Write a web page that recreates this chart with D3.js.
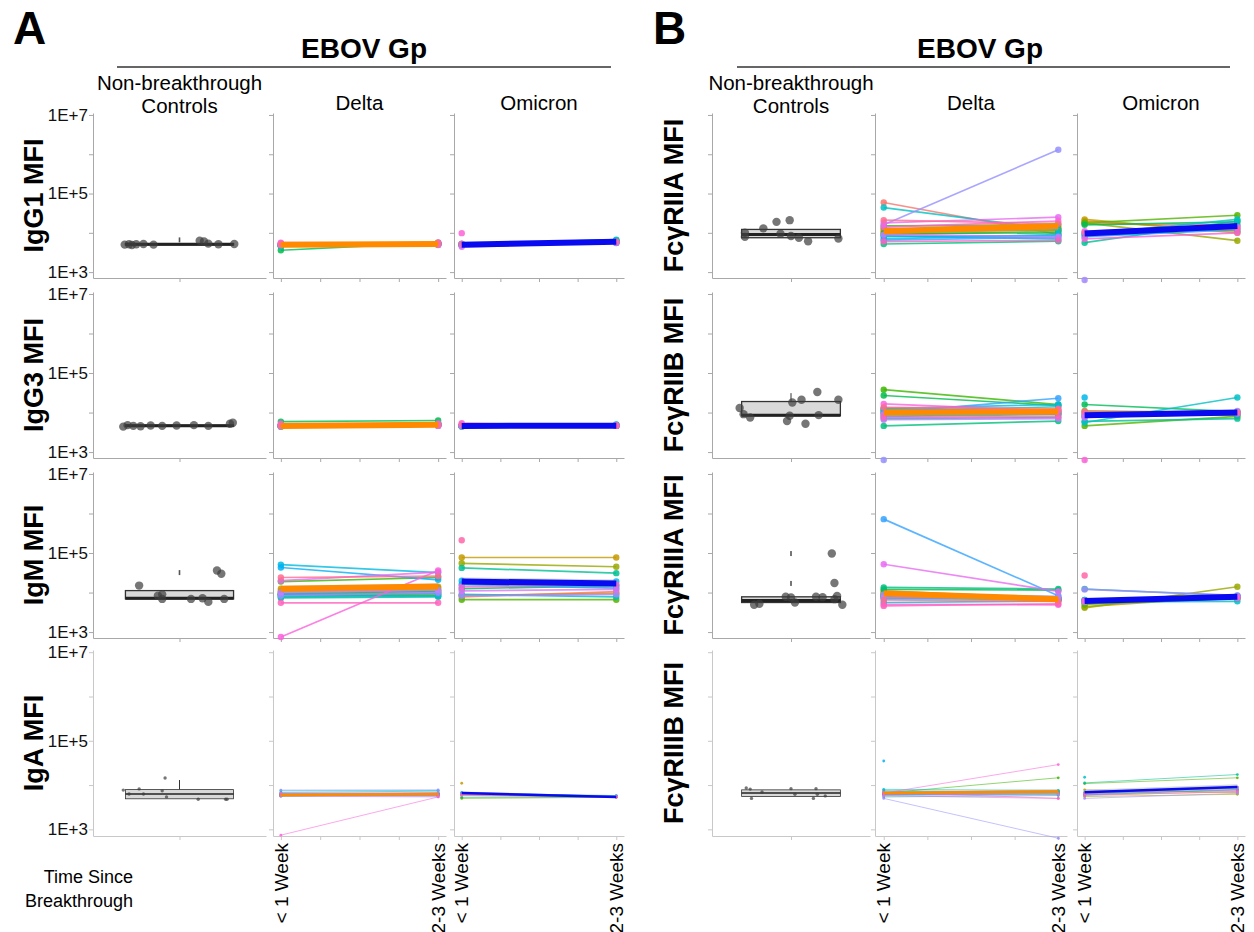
<!DOCTYPE html>
<html>
<head>
<meta charset="utf-8">
<title>EBOV Gp</title>
<script src="https://cdn.jsdelivr.net/npm/d3@7"></script>
<style>
  body { margin: 0; background: #fff; }
</style>
</head>
<body>
<script>
// ---- data, MFI ----
const antigens = ["IgG1", "IgG3", "IgM", "IgA", "FcγRIIA", "FcγRIIB", "FcγRIIIA", "FcγRIIIB"];
const timeLabels = ["< 1 Week", "2-3 Weeks"];
const timeTicks = [1, 1.25, 1.5, 1.75, 2];
const yTicks = [1e3, 1e4, 1e5, 1e6, 1e7];
const yTickLabels = ["1E+3", "", "1E+5", "", "1E+7"];
const deltaSubjects = d3.range(1, 21).map(i => "D" + i);
const omicronSubjects = d3.range(1, 15).map(i => "O" + i);

// controls: values, jitter (category units), box [q1, median, q3, upper whisker], outliers
const ctrlValues = [
  [5000, 5100, 4900, 5100, 5200, 5000, 6300, 6000, 5300, 5100, 5200],
  [4400, 4800, 4600, 4500, 4700, 4600, 4700, 4800, 4600, 5200, 5500],
  [15000, 8300, 6900, 9000, 6900, 7200, 5800, 6900, 36000, 30000],
  [7700, 6300, 8200, 6300, 7400, 14400, 5400, 4800, 4800, 4800],
  [10000, 7900, 13000, 19000, 9500, 21000, 8300, 7500, 6100, 7200],
  [13000, 9100, 7500, 6100, 8300, 18000, 21000, 5200, 33000, 8600, 21000],
  [4900, 5200, 7800, 7500, 5600, 7800, 7600, 97000, 17500, 8200, 6800, 4900],
  [8600, 8100, 5000, 7000, 8300, 6200, 5000, 8300, 6200, 5700]
];
const ctrlJitter = [
  [-0.38, -0.35, -0.33, -0.3, -0.25, -0.18, 0.14, 0.17, 0.2, 0.27, 0.38],
  [-0.39, -0.36, -0.32, -0.27, -0.2, -0.12, -0.02, 0.1, 0.2, 0.35, 0.37],
  [-0.28, -0.15, -0.12, -0.12, 0.08, 0.16, 0.2, 0.31, 0.26, 0.29],
  [-0.39, -0.35, -0.28, -0.25, -0.12, -0.1, -0.09, 0.13, 0.32, 0.33],
  [-0.35, -0.35, -0.21, -0.11, -0.08, -0.01, 0.0, 0.06, 0.13, 0.36],
  [-0.39, -0.36, -0.31, -0.03, -0.01, 0.01, 0.08, 0.11, 0.2, 0.21, 0.36],
  [-0.28, -0.24, -0.04, 0.0, 0.03, 0.19, 0.24, 0.31, 0.33, 0.35, 0.33, 0.39],
  [-0.34, -0.31, -0.3, -0.22, 0.0, 0.03, 0.17, 0.19, 0.2, 0.26]
];
const ctrlBox = [
  [4900, 5100, 5300, 5300],
  [4500, 4650, 4800, 4800],
  [6900, 7200, 11200, 11200],
  [4900, 6300, 7900, 13000],
  [7500, 9100, 12200, 12200],
  [8300, 8600, 19000, 31000],
  [5600, 6300, 7800, 7800],
  [5500, 6600, 7800, 7800]
];
const ctrlOutliers = [[6600], [], [32000], [], [], [], [97000, 17000], []];

// breakthrough subjects: [< 1 week, 2-3 weeks]
const deltaValues = [
  [[5000,5300],[5100,5400],[4800,5200],[5200,5500],[4700,5000],[4900,5100],[4600,5300],[3600,5600],[4700,5400],[4900,5200],[4800,5300],[5000,5000],[4600,5100],[5100,5300],[4800,5000],[5300,5200],[5400,4900],[5600,5500],[5200,5700],[5000,5100]],
  [[4600,4900],[4700,5000],[4500,4800],[4800,5100],[4400,4700],[4600,4800],[4500,5200],[5900,6300],[4700,5000],[4600,5100],[4800,5400],[4600,4700],[4500,4900],[4700,4800],[4400,4600],[4800,4900],[4900,4600],[5200,5300],[4700,5100],[4600,4800]],
  [[8800,9500],[10500,12000],[12500,14000],[11000,13000],[9000,10500],[8000,9000],[19000,24000],[9500,11000],[8800,8300],[7300,7800],[7800,8200],[51000,32000],[43000,21000],[9000,9500],[8300,10000],[10000,11500],[20000,33000],[750,36000],[5500,5500],[24000,26000]],
  [[6000,6300],[5800,6200],[6200,6600],[6400,6500],[5900,6100],[6100,6200],[5600,5900],[6000,6400],[5700,6000],[6300,6000],[7400,7500],[6800,7300],[5800,5600],[6200,6100],[7700,7800],[6600,6800],[5600,5400],[740,5400],[6400,6000],[6000,5800]],
  [[59000,9100],[12000,14000],[11000,13000],[10000,12000],[9000,11000],[13000,11500],[15000,16000],[9500,10000],[5200,6100],[8000,8500],[44000,12000],[7000,9000],[8500,7000],[6500,7800],[16000,1300000],[9000,8000],[18000,25000],[14000,20000],[6000,6500],[21000,17000]],
  [[13000,11000],[11500,10500],[10000,10800],[9500,10000],[12000,9000],[8700,9500],[38000,16000],[27000,15000],[4600,6100],[7000,7500],[11000,14000],[12500,16000],[8000,9000],[10000,23000],[630,null],[6600,7000],[9000,12000],[16500,11000],[7500,8000],[13500,12500]],
  [[9000,7000],[10000,7500],[11000,7200],[9500,6800],[8500,6500],[9000,7000],[8000,6600],[12000,11500],[13500,12300],[7500,6800],[5600,6100],[8000,7000],[7000,6800],[720000,8300],[9000,8000],[7500,7000],[52000,10700],[5000,4900],[4600,5200],[6500,6000]],
  [[6500,6800],[6200,7000],[6800,7400],[6000,6500],[7200,7200],[6400,6900],[6600,14600],[6300,6800],[5400,5800],[6100,6300],[8000,7600],[7500,6700],[35000,null],[6000,6200],[5000,630],[5800,6100],[5700,5000],[6600,29000],[6900,5000],[6400,6600]]
];
const omicronValues = [
  [[5000,5800],[5100,5600],[4900,6000],[5200,5900],[4800,6200],[5000,6300],[5200,6500],[5100,6700],[4900,5700],[5000,5500],[5300,5800],[4400,5600],[9800,null],[5200,5900]],
  [[4600,4700],[4500,4600],[4700,4800],[4600,4700],[4400,4600],[4600,4800],[4700,4900],[4600,5000],[4500,4700],[4600,4600],[4500,4700],[4800,4700],[5400,4600],[5000,4700]],
  [[7800,10500],[8500,9500],[77000,77000],[55000,45000],[6600,6600],[12500,15000],[42000,31000],[9000,7800],[20000,19000],[16000,13000],[8300,9000],[11000,12000],[14000,16000],[210000,null]],
  [[6400,5600],[6000,5500],[11000,null],[6200,5400],[5000,5300],[5300,5400],[6100,5700],[6600,5800],[6800,5500],[6500,5500],[6300,5600],[6000,5400],[6200,5500],[5800,5300]],
  [[17000,16000],[20000,11000],[22000,10000],[18000,6300],[18000,28000],[16000,19000],[5600,20000],[9000,22000],[9600,15000],[8000,12000],[630,null],[11000,14000],[7000,10000],[10000,13000]],
  [[9000,10000],[8000,9800],[10000,8500],[11000,10000],[4600,8000],[16000,10500],[6000,7000],[5600,24000],[24000,null],[8000,9000],[9000,11000],[7500,9500],[630,null],[10500,10000]],
  [[6000,7500],[5500,7000],[4400,8000],[4100,14000],[5000,7200],[6500,7500],[12300,8300],[5800,6000],[6100,7800],[6500,8000],[12000,8500],[5800,7300],[6200,7600],[27000,null]],
  [[6600,7500],[6000,7000],[7800,6800],[5500,6200],[10800,14600],[6200,8000],[11200,17300],[15000,null],[6900,9000],[6000,7800],[5000,6500],[6500,8500],[5800,7200],[6300,8800]]
];

// group means and their band: [lo1, lo2, hi1, hi2]
const deltaMean = [[4950,5200],[4600,4900],[12500,14200],[6000,6300],[11000,15000],[10000,10400],[9500,6800],[6600,7200]];
const omicronMean = [[5000,5900],[4600,4650],[19000,17000],[6600,5400],[9600,15000],[8600,10000],[6100,7800],[6900,9000]];
const deltaBand = [[4750,5000,5150,5400],[4450,4750,4750,5050],[10500,11800,14800,17000],[5600,5900,6400,6700],[9500,11500,12800,19000],[9000,9300,11100,11600],[8000,6300,11300,7400],[6100,6500,7200,8000]];
const omicronBand = [[4750,5500,5250,6300],[4450,4500,4750,4800],[15000,13500,24000,21500],[6000,5100,7200,5700],[8300,12800,11100,17500],[7500,9000,9800,11100],[5500,7100,6800,8600],[6100,7700,7800,10500]];

// ---- layout ----
const FONT = "'Liberation Sans', Arial, sans-serif";
const rowsY = [[113, 278], [292, 458], [472, 638], [650, 836]];
const figs = [
  { letter: "A", lx: 13, title: 364, rule: [117, 611], cols: [[93, 266], [273, 446], [454, 624]], labelX: 43, labels: true },
  { letter: "B", lx: 653, title: 980, rule: [737, 1230], cols: [[712, 870], [875, 1067], [1077, 1245]], labelX: 683, labels: false }
];
// ggplot default hue palettes
const deltaColor = d3.scaleOrdinal(deltaSubjects, ["#F8766D", "#EA8331", "#D89000", "#C09B00", "#A3A500", "#7CAE00", "#39B600", "#00BB4E", "#00BF7D", "#00C1A3", "#00BFC4", "#00BAE0", "#00B0F6", "#35A2FF", "#9590FF", "#C77CFF", "#E76BF3", "#FA62DB", "#FF62BC", "#FF6C91"]);
const omicronColor = d3.scaleOrdinal(omicronSubjects, ["#F8766D", "#E38900", "#C49A00", "#99A800", "#53B400", "#00BC56", "#00C094", "#00BFC4", "#00B6EB", "#06A4FF", "#A58AFF", "#DF70F8", "#FB61D7", "#FF66A8"]);

const svg = d3.select("body").append("svg")
  .attr("width", 1254).attr("height", 932)
  .attr("font-family", FONT);

// headers
figs.forEach(f => {
  svg.append("text").attr("x", f.lx).attr("y", 44)
    .attr("font-size", 46).attr("font-weight", "bold").text(f.letter);
  svg.append("text").attr("x", f.title).attr("y", 58).attr("text-anchor", "middle")
    .attr("font-size", 28).attr("font-weight", "bold").text("EBOV Gp");
  svg.append("line").attr("x1", f.rule[0]).attr("x2", f.rule[1]).attr("y1", 67).attr("y2", 67)
    .attr("stroke", "#333").attr("stroke-width", 1.5);
  const cx = f.cols.map(c => (c[0] + c[1]) / 2);
  svg.append("text").attr("x", cx[0]).attr("y", 90).attr("text-anchor", "middle")
    .attr("font-size", 20.5).text("Non-breakthrough");
  svg.append("text").attr("x", cx[0]).attr("y", 113).attr("text-anchor", "middle")
    .attr("font-size", 20.5).text("Controls");
  svg.append("text").attr("x", cx[1]).attr("y", 110).attr("text-anchor", "middle")
    .attr("font-size", 20.5).text("Delta");
  svg.append("text").attr("x", cx[2]).attr("y", 110).attr("text-anchor", "middle")
    .attr("font-size", 20.5).text("Omicron");
});

svg.append("text").attr("x", 133).attr("y", 883).attr("text-anchor", "end")
  .attr("font-size", 18).text("Time Since");
svg.append("text").attr("x", 133).attr("y", 907).attr("text-anchor", "end")
  .attr("font-size", 18).text("Breakthrough");

function axes(g, x, y, ticksX, col, showLabels, axisColor) {
  g.append("g").attr("transform", `translate(${col[0]},0)`)
    .call(d3.axisLeft(y).tickValues(yTicks).tickSize(4).tickSizeOuter(0).tickPadding(1)
      .tickFormat((d, i) => showLabels ? yTickLabels[i] : ""))
    .attr("color", axisColor).attr("font-family", FONT).attr("font-size", 17)
    .call(s => s.selectAll("text").attr("fill", "#111"));
  g.append("g").attr("transform", `translate(0,${y.range()[0]})`)
    .call(d3.axisBottom(x).tickValues(ticksX).tickSize(4).tickSizeOuter(0).tickFormat(""))
    .attr("color", axisColor);
}

antigens.forEach((name, k) => {
  const f = figs[k < 4 ? 0 : 1];
  const r = k % 4;
  const thin = r === 3;
  const [top, bottom] = rowsY[r];
  const y = d3.scaleLog().domain([10 ** 2.85, 10 ** 7.05]).range([bottom, top]);
  const g = svg.append("g");
  const axisColor = thin ? "#c8c8c8" : "#a8a8a8";

  g.append("text")
    .attr("transform", `translate(${f.labelX},${(top + bottom) / 2}) rotate(-90)`)
    .attr("text-anchor", "middle").attr("font-size", 27).attr("font-weight", "bold")
    .text(name + " MFI");

  // controls: box plot with jittered points
  const xc = d3.scaleLinear().domain([0.4, 1.6]).range(f.cols[0]);
  axes(g, xc, y, [1], f.cols[0], f.labels, axisColor);
  const [q1, med, q3, wHi] = ctrlBox[k];
  if (wHi > q3) {
    g.append("line").attr("x1", xc(1)).attr("x2", xc(1)).attr("y1", y(q3)).attr("y2", y(wHi))
      .attr("stroke", "#333").attr("stroke-width", 1);
  }
  g.append("rect").attr("x", xc(0.625)).attr("width", xc(1.375) - xc(0.625))
    .attr("y", y(q3)).attr("height", Math.max(1, y(q1) - y(q3)))
    .attr("fill", "#d9d9d9").attr("stroke", "#333").attr("stroke-width", thin ? 0.8 : 1.3);
  g.append("line").attr("x1", xc(0.625)).attr("x2", xc(1.375)).attr("y1", y(med)).attr("y2", y(med))
    .attr("stroke", "#222").attr("stroke-width", thin ? 1.5 : 3);
  g.selectAll(".out").data(ctrlOutliers[k]).join("rect")
    .attr("x", xc(1) - 0.8).attr("width", 1.6)
    .attr("y", d => y(d) - 2.5).attr("height", 5).attr("fill", "#555");
  g.selectAll(".ctrl").data(ctrlValues[k]).join("circle")
    .attr("cx", (d, i) => xc(1 + ctrlJitter[k][i])).attr("cy", d => y(d))
    .attr("r", thin ? 1.7 : 4.2).attr("fill", "#3c3c3c").attr("opacity", 0.7);

  // breakthrough groups
  [[deltaValues, deltaSubjects, deltaColor, deltaMean, deltaBand, "#ff8a00"],
   [omicronValues, omicronSubjects, omicronColor, omicronMean, omicronBand, "#0a0af0"]]
  .forEach(([vals, ids, color, mean, band, meanColor], gi) => {
    const col = f.cols[gi + 1];
    const x = d3.scaleLinear().domain([0.95, 2.05]).range(col);
    axes(g, x, y, timeTicks, col, false, axisColor);
    const line = d3.line().x(d => x(d[0])).y(d => y(d[1]));
    const data = vals[k].map((v, i) => ({ id: ids[i], v }));

    g.selectAll(null).data(data.filter(d => d.v[0] != null && d.v[1] != null)).join("path")
      .attr("d", d => line([[1, d.v[0]], [2, d.v[1]]]))
      .attr("fill", "none").attr("stroke", d => color(d.id))
      .attr("stroke-width", thin ? 0.8 : 1.7).attr("opacity", thin ? 0.7 : 0.8);
    const pts = data.flatMap(d => d.v.map((v, t) => ({ id: d.id, t: t + 1, v })).filter(p => p.v != null));
    g.selectAll(null).data(pts).join("circle")
      .attr("cx", p => x(p.t)).attr("cy", p => y(p.v))
      .attr("r", thin ? 1.4 : 3.2).attr("fill", p => color(p.id)).attr("opacity", 0.85);

    const b = band[k];
    const area = d3.area().x(d => x(d[0])).y0(d => y(d[1])).y1(d => y(d[2]));
    g.append("path").attr("d", area([[1, b[0], b[2]], [2, b[1], b[3]]]))
      .attr("fill", "#9aa6b4").attr("opacity", 0.45);
    g.append("path").attr("d", line([[1, mean[k][0]], [2, mean[k][1]]]))
      .attr("fill", "none").attr("stroke", meanColor).attr("stroke-width", thin ? 2.5 : 6);

    if (thin) {
      [1, 2].forEach((t, ti) => {
        g.append("text")
          .attr("transform", `translate(${x(t)},843) rotate(-90)`)
          .attr("text-anchor", "end").attr("dy", "0.35em").attr("font-size", 19)
          .text(timeLabels[ti]);
      });
    }
  });
});
</script>
</body>
</html>
